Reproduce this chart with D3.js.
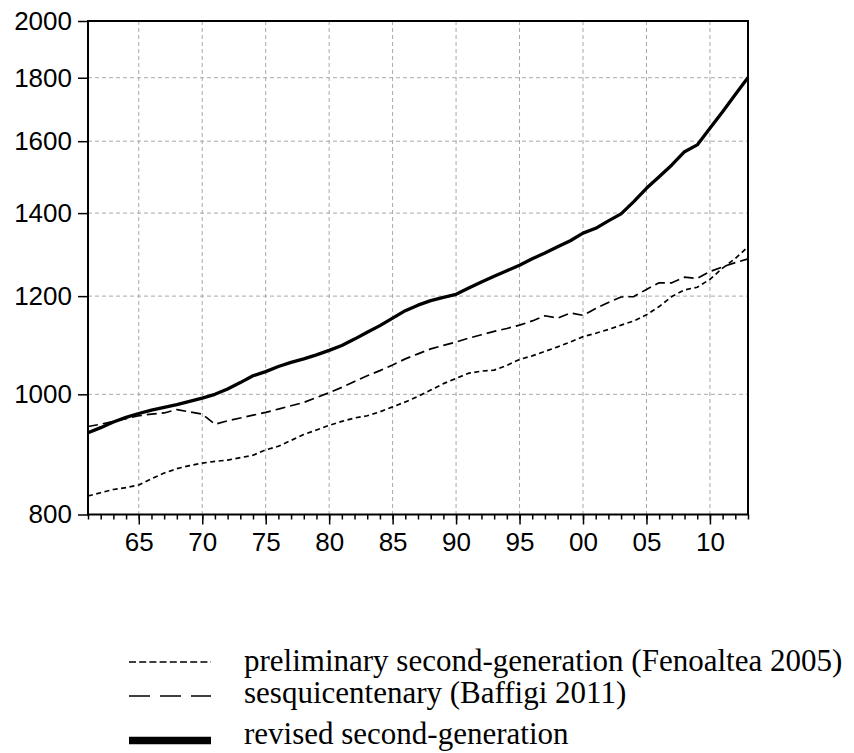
<!DOCTYPE html>
<html>
<head>
<meta charset="utf-8">
<script src="https://cdn.jsdelivr.net/npm/d3@7/dist/d3.min.js"></script>
<style>
	html, body { margin: 0; padding: 0; background: #fff; }
	svg { display: block; }
</style>
</head>
<body>
<div id="container"></div>
<script>
/* global d3 */

'use strict';

// Years 1961..2013 (one value per year).
var years = d3.range(1961, 2014);

// Preliminary second-generation (Fenoaltea 2005).
var preliminary = [
	828, 833, 838, 841, 845, 855, 864, 871, 876, 880,
	883, 885, 889, 893, 902, 908, 918, 928, 936, 944,
	951, 957, 961, 968, 977, 986, 996, 1008, 1020, 1030,
	1040, 1044, 1046, 1055, 1067, 1074, 1083, 1092, 1102, 1113,
	1120, 1128, 1137, 1146, 1159, 1177, 1199, 1214, 1220, 1238,
	1264, 1287, 1315
];

// Sesquicentenary (Baffigi 2011).
var sesquicentenary = [
	942, 946, 951, 956, 961, 964, 966, 972, 968, 964,
	946, 952, 957, 962, 967, 973, 979, 985, 994, 1003,
	1013, 1024, 1035, 1045, 1056, 1068, 1078, 1088, 1095, 1102,
	1110, 1117, 1124, 1130, 1137, 1146, 1157, 1152, 1163, 1158,
	1173, 1186, 1198, 1199, 1215, 1230, 1230, 1243, 1240, 1256,
	1267, 1277, 1286
];

// Revised second-generation.
var revised = [
	931, 940, 950, 958, 965, 971, 976, 981, 987, 993,
	1000, 1010, 1022, 1035, 1043, 1053, 1061, 1068, 1076, 1085,
	1095, 1108, 1122, 1136, 1152, 1168, 1180, 1190, 1197, 1204,
	1218, 1232, 1245, 1258, 1271, 1286, 1300, 1315, 1330, 1349,
	1361, 1380, 1398, 1430, 1466, 1498, 1531, 1569, 1589, 1639,
	1690, 1745, 1801
];

var yTicks = [800, 1000, 1200, 1400, 1600, 1800, 2000];
var xLabelYears = [1965, 1970, 1975, 1980, 1985, 1990, 1995, 2000, 2005, 2010];

var legendLabels = [
	"preliminary second-generation (Fenoaltea 2005)",
	"sesquicentenary (Baffigi 2011)",
	"revised second-generation"
];

//////////////////////////////////////////////////
// Layout.
//////////////////////////////////////////////////

var W = 854, H = 753;
var plot = {left: 88, right: 748, top: 21, bottom: 514.5};

var svg = d3.select("#container").append("svg")
		.attr("width", W)
		.attr("height", H);

var x = d3.scaleLinear()
		.domain([1961, 2013])
		.range([plot.left, plot.right]);

var y = d3.scaleLog()
		.domain([800, 2000])
		.range([plot.bottom, plot.top]);

// Grid lines (grey, dashed), only inside the frame.
var gGrid = svg.append("g")
		.attr("stroke", "#a8a8a8")
		.attr("stroke-width", 1)
		.attr("stroke-dasharray", "4,3");

gGrid.selectAll("line.v").data(xLabelYears)
		.enter().append("line")
		.attr("class", "v")
		.attr("x1", function(d) { return x(d); })
		.attr("x2", function(d) { return x(d); })
		.attr("y1", plot.top)
		.attr("y2", plot.bottom);

gGrid.selectAll("line.h").data(yTicks.slice(1, -1))
		.enter().append("line")
		.attr("class", "h")
		.attr("x1", plot.left)
		.attr("x2", plot.right)
		.attr("y1", function(d) { return y(d); })
		.attr("y2", function(d) { return y(d); });

// Series lines.
var line = d3.line()
		.x(function(d, i) { return x(years[i]); })
		.y(function(d) { return y(d); });

var series = [
	{values: preliminary, width: 1.7, dash: "5,3.5"},
	{values: sesquicentenary, width: 1.7, dash: "10,5"},
	{values: revised, width: 3.3, dash: null}
];

svg.selectAll("path.series").data(series)
		.enter().append("path")
		.attr("class", "series")
		.attr("fill", "none")
		.attr("stroke", "#000")
		.attr("stroke-width", function(d) { return d.width; })
		.attr("stroke-dasharray", function(d) { return d.dash; })
		.attr("stroke-linejoin", "round")
		.attr("d", function(d) { return line(d.values); });

// Frame.
svg.append("rect")
		.attr("x", plot.left)
		.attr("y", plot.top)
		.attr("width", plot.right - plot.left)
		.attr("height", plot.bottom - plot.top)
		.attr("fill", "none")
		.attr("stroke", "#000")
		.attr("stroke-width", 2);

// Y axis: outward ticks and labels.
var yAxis = d3.axisLeft(y)
		.tickValues(yTicks)
		.tickFormat(d3.format("d"))
		.tickSize(10)
		.tickPadding(6);

var gY = svg.append("g")
		.attr("transform", "translate(" + plot.left + ",0)")
		.call(yAxis);
gY.select(".domain").remove();
gY.selectAll("line").attr("stroke-width", 1.5);
gY.selectAll("text")
		.attr("font-family", "'Liberation Sans', Arial, sans-serif")
		.attr("font-size", 26)
		.attr("fill", "#000");

// X axis: minor ticks every year, longer ticks every five years.
var xAxis = d3.axisBottom(x)
		.tickValues(years)
		.tickSize(5)
		.tickFormat("");

var gX = svg.append("g")
		.attr("transform", "translate(0," + plot.bottom + ")")
		.call(xAxis);
gX.select(".domain").remove();
gX.selectAll("line").attr("stroke-width", 1.5);

var gXMajor = svg.append("g")
		.attr("transform", "translate(0," + plot.bottom + ")")
		.call(d3.axisBottom(x)
				.tickValues(xLabelYears)
				.tickSize(10)
				.tickPadding(8)
				.tickFormat(function(d) { return d3.format("02d")(d % 100); }));
gXMajor.select(".domain").remove();
gXMajor.selectAll("line").attr("stroke-width", 1.5);
gXMajor.selectAll("text")
		.attr("font-family", "'Liberation Sans', Arial, sans-serif")
		.attr("font-size", 26)
		.attr("fill", "#000");

//////////////////////////////////////////////////
// Legend (below the chart, serif font).
//////////////////////////////////////////////////

var legendRows = [
	{label: legendLabels[0], baseline: 671, sampleY: 662, width: 1.5, dash: "7,3.2"},
	{label: legendLabels[1], baseline: 703, sampleY: 696, width: 1.3, dash: "21,10"},
	{label: legendLabels[2], baseline: 744, sampleY: 740.5, width: 7.5, dash: null}
];

var gLegend = svg.append("g");

gLegend.selectAll("line").data(legendRows)
		.enter().append("line")
		.attr("x1", 129)
		.attr("x2", 211)
		.attr("y1", function(d) { return d.sampleY; })
		.attr("y2", function(d) { return d.sampleY; })
		.attr("stroke", "#000")
		.attr("stroke-width", function(d) { return d.width; })
		.attr("stroke-dasharray", function(d) { return d.dash; });

gLegend.selectAll("text").data(legendRows)
		.enter().append("text")
		.attr("x", 244)
		.attr("y", function(d) { return d.baseline; })
		.attr("font-family", "'Liberation Serif', 'Times New Roman', serif")
		.attr("font-size", 31)
		.attr("fill", "#000")
		.text(function(d) { return d.label; });
</script>
</body>
</html>
